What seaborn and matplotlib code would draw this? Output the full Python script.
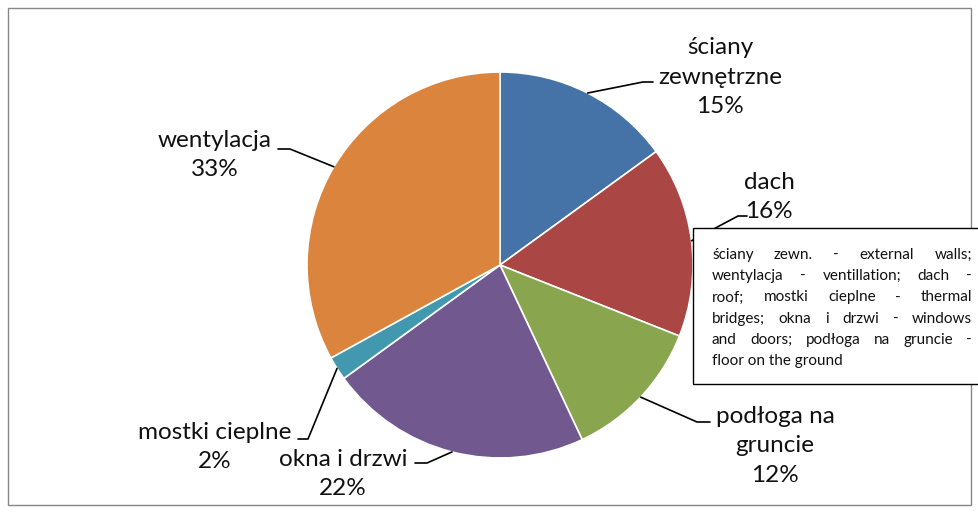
import numpy as np
import matplotlib.pyplot as plt
import seaborn as sns
from matplotlib.patches import Rectangle

# Data
labels = ['ściany\nzewnętrzne', 'dach', 'podłoga na\ngruncie', 'okna i drzwi', 'mostki cieplne', 'wentylacja']
shares = [15, 16, 12, 22, 2, 33]
colors = ['#4572A7', '#AA4643', '#89A54E', '#71588F', '#4198AF', '#DB843D']

note_lines = ['ściany zewn. - external walls;',
              'wentylacja - ventillation; dach -',
              'roof; mostki cieplne - thermal',
              'bridges; okna i drzwi - windows',
              'and doors; podłoga na gruncie -',
              'floor on the ground']

sns.set_theme(style='white')
plt.rcParams['font.family'] = ['Lato', 'DejaVu Sans']

W, H = 979, 513
fig = plt.figure(figsize=(9.79, 5.13), dpi=100)
ax = fig.add_axes([0, 0, 1, 1])

cx, cy, r = 500, H - 265, 193
wedges, _ = ax.pie(shares, colors=colors, startangle=90, counterclock=False,
                   center=(cx, cy), radius=r,
                   wedgeprops=dict(edgecolor='white', linewidth=1.2))
ax.set_xlim(0, W)
ax.set_ylim(0, H)
ax.set_aspect('equal')
ax.axis('off')

# label text centre, tail end, elbow (screen px, y down)
text_pos = [(720, 77), (769, 197), (775, 446), (343, 474), (215, 447), (215, 155)]
tail_end = [(653, 82), (747, 216), (710, 422), (415, 463), (298, 439), (278, 149)]
elbow = [(643, 82), (738, 216), (697, 422), (427, 463), (308, 439), (290, 149)]

for w, lab, s, tp, te, el in zip(wedges, labels, shares, text_pos, tail_end, elbow):
    mid = np.deg2rad((w.theta1 + w.theta2) / 2)
    ex, ey = cx + r * np.cos(mid), cy + r * np.sin(mid)
    ax.plot([ex, el[0], te[0]], [ey, H - el[1], H - te[1]], color='black', lw=1.2, zorder=3)
    ax.text(tp[0], H - tp[1], f'{lab}\n{s}%', ha='center', va='center',
            fontsize=17.5, linespacing=1.49, color='#111111')

# note box with justified text
bx0, by0, bx1, by1 = 693, 228, 990, 384
ax.add_patch(Rectangle((bx0, H - by1), bx1 - bx0, by1 - by0, facecolor='white',
                       edgecolor='black', lw=1, zorder=5, clip_on=False))
fig.canvas.draw()
renderer = fig.canvas.get_renderer()
left, right = 712, 972
for i, line in enumerate(note_lines):
    y = H - (255 + i * 21.2)
    words = line.split(' ')
    if i == len(note_lines) - 1:
        ax.text(left, y, line, fontsize=11, va='center', ha='left', zorder=6, color='#111111')
        continue
    objs = [ax.text(0, y, wd, fontsize=11, va='center', ha='left', zorder=6, color='#111111') for wd in words]
    widths = [o.get_window_extent(renderer).width for o in objs]
    gap = (right - left - sum(widths)) / (len(words) - 1)
    x = left
    for o, wd in zip(objs, widths):
        o.set_x(x)
        x += wd + gap

# outer border
ax.add_patch(Rectangle((8, H - 505), 963, 497, facecolor='none', edgecolor='#868686',
                       lw=1, clip_on=False, zorder=1))

fig.savefig('out.png', dpi=100)
